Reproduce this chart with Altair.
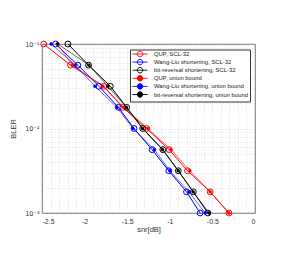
import altair as alt
import pandas as pd

series_names = [
    "QUP, SCL-32",
    "Wang-Liu shortening, SCL-32",
    "bit-reversal shortening, SCL-32",
    "QUP, union bound",
    "Wang-Liu shortening, union bound",
    "bit-reversal shortening, union bound",
]
series_colors = ["#ff0000", "#0000ff", "#000000", "#ff0000", "#0000ff", "#000000"]
series_fills = ["transparent", "transparent", "transparent", "#ff0000", "#0000ff", "#000000"]
series_kind = ["SCL", "SCL", "SCL", "UB", "UB", "UB"]

bler = [0.1, 0.0562, 0.0316, 0.0178, 0.01, 0.00562, 0.00316, 0.00178, 0.001]

snr_qup_scl = [-2.48, -2.165, -1.775, -1.553, -1.271, -1.008, -0.792, -0.526, -0.306]
snr_wl_scl = [-2.341, -2.079, -1.832, -1.604, -1.42, -1.208, -1.012, -0.804, -0.644]
snr_br_scl = [-2.196, -1.953, -1.698, -1.506, -1.318, -1.082, -0.9, -0.724, -0.553]
snr_qup_ub = [-2.318, -2.145, -1.785, -1.541, -1.259, -0.985, -0.765, -0.526, -0.306]
snr_wl_ub = [-2.392, -2.109, -1.879, -1.62, -1.432, -1.18, -1.0, -0.776, -0.585]
snr_br_ub = [-2.314, -1.949, -1.726, -1.509, -1.321, -1.086, -0.902, -0.726, -0.538]

all_snr = [snr_qup_scl, snr_wl_scl, snr_br_scl, snr_qup_ub, snr_wl_ub, snr_br_ub]

x_grid_values = [round(-2.5 + 0.1 * i, 1) for i in range(26)]
y_grid_values = [0.001, 0.002, 0.003, 0.004, 0.005, 0.006, 0.007, 0.008, 0.009,
                 0.01, 0.02, 0.03, 0.04, 0.05, 0.06, 0.07, 0.08, 0.09, 0.1]

rows = []
for name, kind, snrs in zip(series_names, series_kind, all_snr):
    for s, b in zip(snrs, bler):
        rows.append({"series": name, "kind": kind, "snr": s, "bler": b})
df = pd.DataFrame(rows)

FONT = "Liberation Sans"

x_enc = alt.X(
    "snr:Q",
    scale=alt.Scale(domain=[-2.5, 0], nice=False, zero=False),
    axis=alt.Axis(
        title="snr[dB]",
        values=x_grid_values,
        labelExpr="abs(datum.value*2 - round(datum.value*2)) < 0.01 ? toString(round(datum.value*10)/10) : ''",
        labelPadding=4,
        titlePadding=1,
    ),
)
y_enc = alt.Y(
    "bler:Q",
    scale=alt.Scale(type="log", domain=[0.001, 0.1], nice=False),
    axis=alt.Axis(
        title="BLER",
        values=y_grid_values,
        labelExpr="datum.value == 0.1 ? '10⁻¹' : datum.value == 0.01 ? '10⁻²' : datum.value == 0.001 ? '10⁻³' : ''",
        labelFont="DejaVu Sans",
        labelFontSize=6.5,
        labelPadding=3,
        titlePadding=7,
    ),
)

stroke_scale = alt.Scale(domain=series_names, range=series_colors)
fill_scale = alt.Scale(domain=series_names, range=series_fills)

legend = alt.Legend(
    title=None,
    orient="none",
    legendX=88,
    legendY=5.5,
    symbolType="M-3,0L3,0M1.1,0A1.1,1.1,0,1,1,-1.1,0A1.1,1.1,0,1,1,1.1,0Z",
    symbolSize=25,
    symbolStrokeWidth=0.9,
    symbolOffset=5.5,
    labelOffset=11,
    labelFontSize=5.9,
    labelFont=FONT,
    labelColor="#222",
    labelLimit=300,
    rowPadding=-1.9,
    padding=1.5,
    fillColor="white",
    strokeColor="#333",
)

base = alt.Chart(df)

lines = base.mark_line().encode(
    x=x_enc,
    y=y_enc,
    stroke=alt.Stroke("series:N", scale=stroke_scale, legend=legend),
    strokeWidth=alt.StrokeWidth("kind:N", scale=alt.Scale(domain=["SCL", "UB"], range=[1.0, 0.6]), legend=None),
    detail="series:N",
)

open_pts = base.transform_filter(alt.datum.kind == "SCL").mark_point(size=34, strokeWidth=1, opacity=1).encode(
    x=x_enc,
    y=y_enc,
    stroke=alt.Stroke("series:N", scale=stroke_scale, legend=legend),
    fill=alt.Fill("series:N", scale=fill_scale, legend=legend),
)

filled_pts = base.transform_filter(alt.datum.kind == "UB").mark_point(size=8, strokeWidth=0.6, opacity=1).encode(
    x=x_enc,
    y=y_enc,
    stroke=alt.Stroke("series:N", scale=stroke_scale, legend=legend),
    fill=alt.Fill("series:N", scale=fill_scale, legend=legend),
)

chart = (
    alt.layer(lines, open_pts, filled_pts)
    .properties(
        width=213,
        height=169,
        autosize=alt.AutoSizeParams(type="none"),
        padding={"left": 34, "top": 36, "right": 23, "bottom": 44},
        background="white",
    )
    .configure_view(stroke="#444", strokeWidth=0.8)
    .configure_axis(
        domain=False,
        ticks=False,
        grid=True,
        gridColor="#c8c8c8",
        gridDash=[1, 2],
        gridWidth=0.6,
        labelFont=FONT,
        labelFontSize=7,
        labelColor="#333",
        titleFont=FONT,
        titleFontSize=7.5,
        titleFontWeight="normal",
        titleColor="#333",
    )
)

chart.save("out.html", embed_options={"renderer": "svg", "actions": False})
